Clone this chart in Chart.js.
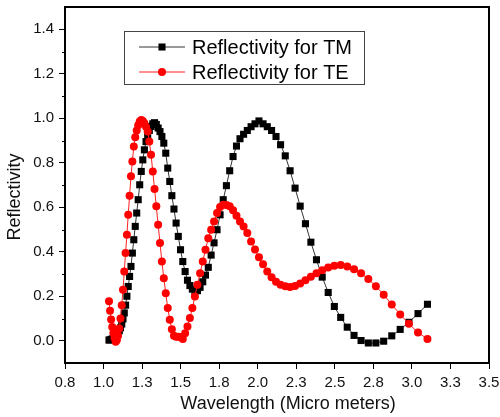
<!DOCTYPE html>
<html>
<head>
<meta charset="utf-8">
<script src="https://cdn.jsdelivr.net/npm/chart.js@4.4.1/dist/chart.umd.min.js"></script>
<style>
  html, body { margin: 0; padding: 0; background: #fff; }
  #wrap { width: 500px; height: 417px; }
</style>
</head>
<body>
<div id="wrap"><canvas id="chart" width="500" height="417"></canvas></div>
<script>
// wavelength in micro meters (same grid for both polarisations)
const wavelength = [
  1.0352, 1.0422, 1.0493, 1.0565, 1.0638, 1.0712, 1.0787, 1.0864, 1.0941, 1.1019,
  1.1099, 1.1180, 1.1261, 1.1344, 1.1429, 1.1514, 1.1601, 1.1689, 1.1779, 1.1869,
  1.1962, 1.2055, 1.2151, 1.2247, 1.2346, 1.2446, 1.2547, 1.2650, 1.2755, 1.2862,
  1.2970, 1.3080, 1.3193, 1.3307, 1.3423, 1.3541, 1.3661, 1.3784, 1.3908, 1.4035,
  1.4164, 1.4296, 1.4430, 1.4567, 1.4706, 1.4848, 1.4993, 1.5140, 1.5291, 1.5444,
  1.5601, 1.5760, 1.5924, 1.6090, 1.6260, 1.6434, 1.6611, 1.6793, 1.6978, 1.7167,
  1.7361, 1.7559, 1.7762, 1.7969, 1.8182, 1.8399, 1.8622, 1.8850, 1.9084, 1.9324,
  1.9569, 1.9822, 2.0080, 2.0346, 2.0619, 2.0899, 2.1186, 2.1482, 2.1786, 2.2099,
  2.2422, 2.2753, 2.3095, 2.3447, 2.3810, 2.4184, 2.4570, 2.4969, 2.5381, 2.5806,
  2.6247, 2.6702, 2.7174, 2.7663, 2.8169, 2.8694, 2.9240, 2.9806, 3.0395, 3.1008
];

const reflTM = [
  0.003, 0.004, 0.006, 0.008, 0.011, 0.015, 0.020, 0.027, 0.035, 0.045,
  0.058, 0.075, 0.098, 0.125, 0.160, 0.200, 0.244, 0.289, 0.334, 0.394,
  0.454, 0.514, 0.574, 0.634, 0.701, 0.761, 0.813, 0.858, 0.895, 0.926,
  0.945, 0.963, 0.975, 0.980, 0.972, 0.956, 0.940, 0.918, 0.888, 0.843,
  0.776, 0.716, 0.652, 0.592, 0.529, 0.469, 0.409, 0.356, 0.311, 0.272,
  0.248, 0.232, 0.222, 0.225, 0.240, 0.265, 0.295, 0.330, 0.385, 0.440,
  0.499, 0.566, 0.634, 0.697, 0.764, 0.828, 0.875, 0.908, 0.928, 0.945,
  0.962, 0.975, 0.988, 0.975, 0.962, 0.945, 0.918, 0.881, 0.831, 0.764,
  0.686, 0.605, 0.526, 0.443, 0.364, 0.286, 0.217, 0.154, 0.105, 0.061,
  0.024, 0.001, -0.010, -0.010, -0.002, 0.022, 0.051, 0.083, 0.122, 0.164
];

const reflTE = [
  0.177, 0.135, 0.095, 0.062, 0.035, 0.012, -0.005, 0.003, 0.022, 0.055,
  0.100, 0.160, 0.229, 0.311, 0.394, 0.476, 0.566, 0.652, 0.739, 0.806,
  0.873, 0.915, 0.945, 0.968, 0.985, 0.992, 0.988, 0.978, 0.962, 0.941,
  0.896, 0.836, 0.761, 0.682, 0.604, 0.521, 0.439, 0.356, 0.281, 0.214,
  0.147, 0.094, 0.052, 0.022, 0.018, 0.018, 0.017, 0.008, 0.034, 0.064,
  0.102, 0.147, 0.199, 0.252, 0.303, 0.356, 0.409, 0.461, 0.499, 0.536,
  0.574, 0.601, 0.611, 0.610, 0.604, 0.586, 0.562, 0.536, 0.514, 0.484,
  0.446, 0.410, 0.375, 0.344, 0.311, 0.285, 0.265, 0.252, 0.245, 0.242,
  0.246, 0.257, 0.272, 0.288, 0.303, 0.317, 0.329, 0.337, 0.341, 0.334,
  0.321, 0.303, 0.277, 0.245, 0.207, 0.163, 0.118, 0.076, 0.037, 0.008
];

const seriesLabels = ['Reflectivity for TM', 'Reflectivity for TE'];
const xTitle = 'Wavelength (Micro meters)';
const yTitle = 'Reflectivity';
const xTicks = [0.75, 1.0, 1.25, 1.5, 1.75, 2.0, 2.25, 2.5, 2.75, 3.0, 3.25, 3.5];
const yTicks = [0, 0.2, 0.4, 0.6, 0.8, 1.0, 1.2, 1.4];
const yMinorTicks = [0.1, 0.3, 0.5, 0.7, 0.9, 1.1, 1.3];

const FONT = "'Liberation Sans', Arial, sans-serif";

// box round the plot, minor ticks, axis titles and the legend box inside the plot
const framePlugin = {
  id: 'frame',
  afterDraw(chart) {
    const ctx = chart.ctx;
    const a = chart.chartArea;
    const ys = chart.scales.y;
    ctx.save();
    ctx.strokeStyle = '#000';
    ctx.lineWidth = 2;
    ctx.beginPath();
    ctx.moveTo(a.left, a.top);
    ctx.lineTo(a.right, a.top);
    ctx.lineTo(a.right, a.bottom);
    ctx.stroke();

    ctx.lineWidth = 1;
    ctx.beginPath();
    yMinorTicks.forEach(v => {
      const py = Math.round(ys.getPixelForValue(v)) + 0.5;
      ctx.moveTo(a.left - 3, py);
      ctx.lineTo(a.left, py);
    });
    ctx.stroke();

    // axis titles (Origin puts them a little off the axis centre)
    ctx.fillStyle = '#111';
    ctx.font = '18px ' + FONT;
    ctx.textAlign = 'center';
    ctx.textBaseline = 'middle';
    ctx.fillText(xTitle, 288, 404);
    ctx.save();
    ctx.translate(15, 197);
    ctx.rotate(-Math.PI / 2);
    ctx.fillText(yTitle, 0, 0);
    ctx.restore();

    // legend
    const bx = 124.5, by = 31.5, bw = 240, bh = 53;
    ctx.fillStyle = '#fff';
    ctx.fillRect(bx, by, bw, bh);
    ctx.strokeStyle = '#444';
    ctx.lineWidth = 1;
    ctx.strokeRect(bx, by, bw, bh);
    chart.data.datasets.forEach((ds, i) => {
      const ly = 47 + i * 25;
      ctx.strokeStyle = ds.borderColor;
      ctx.lineWidth = 1;
      ctx.beginPath();
      ctx.moveTo(139, ly);
      ctx.lineTo(185, ly);
      ctx.stroke();
      ctx.fillStyle = ds.pointBackgroundColor;
      Chart.helpers.drawPoint(ctx, { pointStyle: ds.pointStyle, radius: ds.pointRadius, rotation: 0, borderWidth: 0 }, 162, ly);
      ctx.fillStyle = '#000';
      ctx.font = '20px ' + FONT;
      ctx.textBaseline = 'middle';
      ctx.textAlign = 'left';
      ctx.fillText(seriesLabels[i], 192, ly + 1);
    });
    ctx.restore();
  }
};

new Chart(document.getElementById('chart'), {
  type: 'line',
  data: {
    datasets: [
      {
        label: seriesLabels[0],
        data: wavelength.map((w, i) => ({ x: w, y: reflTM[i] })),
        borderColor: '#333',
        borderWidth: 1,
        pointStyle: 'rect',
        pointRadius: 5,
        pointBackgroundColor: '#000',
        pointBorderWidth: 0,
        order: 1
      },
      {
        label: seriesLabels[1],
        data: wavelength.map((w, i) => ({ x: w, y: reflTE[i] })),
        borderColor: '#ff2020',
        borderWidth: 1,
        pointStyle: 'circle',
        pointRadius: 4,
        pointBackgroundColor: '#ff0000',
        pointBorderWidth: 0,
        order: 0
      }
    ]
  },
  options: {
    responsive: false,
    animation: false,
    events: [],
    layout: { padding: { left: 0, top: 7, right: 11, bottom: 0 } },
    plugins: {
      legend: { display: false },
      tooltip: { enabled: false }
    },
    scales: {
      x: {
        type: 'linear',
        min: 0.75,
        max: 3.5,
        afterBuildTicks: s => { s.ticks = xTicks.map(v => ({ value: v })); },
        afterFit: s => { s.height = 54; s.paddingLeft = 0; s.paddingRight = 0; },
        ticks: {
          callback: v => v.toFixed(1),
          font: { family: FONT, size: 15 },
          color: '#111',
          padding: 5,
          maxRotation: 0,
          autoSkip: false
        },
        grid: { drawOnChartArea: false, drawTicks: true, tickLength: 6, color: '#000', tickWidth: 1 },
        border: { display: true, color: '#000', width: 2 },
        title: { display: false }
      },
      y: {
        min: -0.1,
        max: 1.5,
        afterBuildTicks: s => { s.ticks = yTicks.map(v => ({ value: v })); },
        afterFit: s => { s.width = 65; s.paddingTop = 0; s.paddingBottom = 0; },
        ticks: {
          callback: v => v.toFixed(1),
          font: { family: FONT, size: 15 },
          color: '#111',
          padding: 5
        },
        grid: { drawOnChartArea: false, drawTicks: true, tickLength: 6, color: '#000', tickWidth: 1 },
        border: { display: true, color: '#000', width: 2 },
        title: { display: false }
      }
    }
  },
  plugins: [framePlugin]
});
</script>
</body>
</html>
